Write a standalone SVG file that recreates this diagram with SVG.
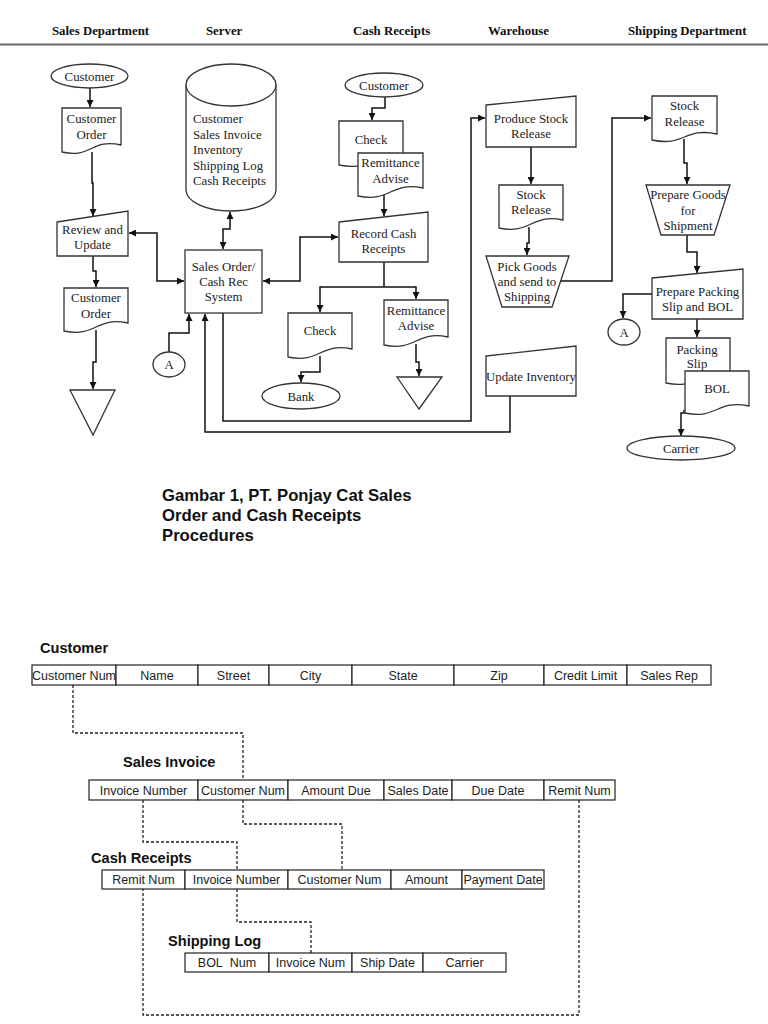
<svg xmlns="http://www.w3.org/2000/svg" width="768" height="1024" viewBox="0 0 768 1024">
<style>
.sh{fill:#fff;stroke:#333;stroke-width:1.3}
.t{font-family:"Liberation Serif","Times New Roman",serif;font-size:12.8px;fill:#222;text-anchor:middle}
.tl{font-family:"Liberation Serif","Times New Roman",serif;font-size:12.8px;fill:#222}
.hd{font-family:"Liberation Serif","Times New Roman",serif;font-size:12.8px;font-weight:bold;fill:#111}
.cn{fill:none;stroke:#111;stroke-width:1.5}
.ttl{font-family:"Liberation Sans",Arial,sans-serif;font-size:16.7px;font-weight:bold;fill:#111}
.lb{font-family:"Liberation Sans",Arial,sans-serif;font-size:14.6px;font-weight:bold;fill:#111}
.cell{fill:#fff;stroke:#222;stroke-width:1.2}
.ct{font-family:"Liberation Sans",Arial,sans-serif;font-size:12.5px;fill:#222;text-anchor:middle}
.dl{fill:none;stroke:#222;stroke-width:1.3;stroke-dasharray:3,2}
</style>
<defs>
<marker id="ah" viewBox="0 0 10 10" refX="10" refY="5" markerWidth="7" markerHeight="7" markerUnits="userSpaceOnUse" orient="auto-start-reverse"><path d="M0,0 L10,5 L0,10 z" fill="#111"/></marker>
</defs>
<rect width="768" height="1024" fill="#fff"/>

<g id="header">
<text class="hd" x="52" y="35">Sales Department</text>
<text class="hd" x="206" y="35">Server</text>
<text class="hd" x="353" y="35">Cash Receipts</text>
<text class="hd" x="488" y="35">Warehouse</text>
<text class="hd" x="628" y="35">Shipping Department</text>
<line x1="0" y1="44.5" x2="768" y2="44.5" stroke="#666" stroke-width="2"/>
</g>

<g id="connectors">
<path class="cn" d="M90,88 V107" marker-end="url(#ah)"/>
<path class="cn" d="M92,152 V183 H93 V216" marker-end="url(#ah)"/>
<path class="cn" d="M93,256 V271 H96 V287" marker-end="url(#ah)"/>
<path class="cn" d="M96,330 V362 H93 V389" marker-end="url(#ah)"/>
<path class="cn" d="M129,233 H157 V281 H184" marker-start="url(#ah)" marker-end="url(#ah)"/>
<path class="cn" d="M230,212 V229 H223 V249" marker-start="url(#ah)" marker-end="url(#ah)"/>
<path class="cn" d="M338,237 H300 V281 H263" marker-start="url(#ah)" marker-end="url(#ah)"/>
<path class="cn" d="M169,352 V333 H189 V314" marker-end="url(#ah)"/>
<path class="cn" d="M510,396 V432 H205 V314" marker-end="url(#ah)"/>
<path class="cn" d="M223,313 V421 H471 V118 H485" marker-end="url(#ah)"/>
<path class="cn" d="M385,97 V108 H372 V120" marker-end="url(#ah)"/>
<path class="cn" d="M384,195 V216" marker-end="url(#ah)"/>
<path class="cn" d="M384,262 V287"/>
<path class="cn" d="M320,312 V287 H416 V299" marker-start="url(#ah)" marker-end="url(#ah)"/>
<path class="cn" d="M320,356 V372 H301 V382" marker-end="url(#ah)"/>
<path class="cn" d="M416,344 V362 H419 V376" marker-end="url(#ah)"/>
<path class="cn" d="M531,147 V184" marker-end="url(#ah)"/>
<path class="cn" d="M529,227 V243 H527 V255" marker-end="url(#ah)"/>
<path class="cn" d="M561,281 H612 V118 H651" marker-end="url(#ah)"/>
<path class="cn" d="M684,139 V163 H687 V184" marker-end="url(#ah)"/>
<path class="cn" d="M687,235 V252 H697 V273" marker-end="url(#ah)"/>
<path class="cn" d="M652,294 H623 V318" marker-end="url(#ah)"/>
<path class="cn" d="M697,319 V337" marker-end="url(#ah)"/>
<path class="cn" d="M684,410 V413 H681 V436" marker-end="url(#ah)"/>
</g>

<g id="n-customer1"><ellipse class="sh" cx="89.5" cy="76" rx="38.5" ry="12"/><text class="t" x="89.5" y="80.5">Customer</text></g>
<g id="n-custorder1"><path class="sh" d="M62,108 H121 V145 C91.5,138 91.5,159 62,152 Z"/><text class="t" x="91.5" y="123">Customer</text><text class="t" x="91.5" y="138.5">Order</text></g>
<g id="n-review"><path class="sh" d="M57,222 L128,211 V256 H57 Z"/><text class="t" x="92.5" y="234">Review and</text><text class="t" x="92.5" y="249">Update</text></g>
<g id="n-custorder2"><path class="sh" d="M64,288 H128 V323 C96,316 96,338 64,331 Z"/><text class="t" x="96" y="302">Customer</text><text class="t" x="96" y="318">Order</text></g>
<g id="n-tri1"><path class="sh" d="M70,390 H115 L93,435 Z"/></g>

<g id="n-db"><path class="sh" d="M186,85 A45,21 0 0 1 276,85 V190 A45,21 0 0 1 186,190 Z"/><path class="sh" fill="none" d="M186,85 A45,21 0 0 0 276,85"/>
<text class="tl" x="193" y="123">Customer</text><text class="tl" x="193" y="138.5">Sales Invoice</text><text class="tl" x="193" y="154">Inventory</text><text class="tl" x="193" y="169.5">Shipping Log</text><text class="tl" x="193" y="185">Cash Receipts</text></g>
<g id="n-system"><rect class="sh" x="185" y="250" width="77" height="63" stroke-width="1.6"/><text class="t" x="223.5" y="271">Sales Order/</text><text class="t" x="223.5" y="286">Cash Rec</text><text class="t" x="223.5" y="301">System</text></g>
<g id="n-a1"><ellipse class="sh" cx="169" cy="364.5" rx="16" ry="12.5"/><text class="t" x="169" y="369">A</text></g>

<g id="n-customer2"><ellipse class="sh" cx="384" cy="85" rx="39" ry="12"/><text class="t" x="384" y="89.5">Customer</text></g>
<g id="n-check1"><path class="sh" d="M339,121 H403 V158 C371,151 371,172 339,165 Z"/><text class="t" x="371" y="143.5">Check</text></g>
<g id="n-remit1"><path class="sh" d="M358,153 H423 V188 C390.5,181 390.5,203 358,196 Z"/><text class="t" x="390.5" y="167">Remittance</text><text class="t" x="390.5" y="183">Advise</text></g>
<g id="n-record"><path class="sh" d="M339,222 L428,212 V262 H339 Z"/><text class="t" x="383.5" y="238">Record Cash</text><text class="t" x="383.5" y="253">Receipts</text></g>
<g id="n-check2"><path class="sh" d="M288,313 H352 V349 C320,342 320,364 288,357 Z"/><text class="t" x="320" y="335">Check</text></g>
<g id="n-remit2"><path class="sh" d="M384,300 H448 V337 C416,330 416,352 384,345 Z"/><text class="t" x="416" y="315">Remittance</text><text class="t" x="416" y="330">Advise</text></g>
<g id="n-bank"><ellipse class="sh" cx="301" cy="396" rx="39" ry="13"/><text class="t" x="301" y="400.5">Bank</text></g>
<g id="n-tri2"><path class="sh" d="M397,377 H442 L419,409 Z"/></g>

<g id="n-produce"><path class="sh" d="M486,105 L576,96 V147 H486 Z"/><text class="t" x="531" y="123">Produce Stock</text><text class="t" x="531" y="138">Release</text></g>
<g id="n-stock1"><path class="sh" d="M499,185 H563 V220 C531,213 531,235 499,228 Z"/><text class="t" x="531" y="199">Stock</text><text class="t" x="531" y="214">Release</text></g>
<g id="n-pick"><path class="sh" d="M486,256 H569 L552,307 H502 Z"/><text class="t" x="527" y="271">Pick Goods</text><text class="t" x="527" y="286">and send to</text><text class="t" x="527" y="301">Shipping</text></g>
<g id="n-update"><path class="sh" d="M486,356 L576,346 V396 H486 Z"/><text class="t" x="531" y="381">Update Inventory</text></g>

<g id="n-stock2"><path class="sh" d="M652,96 H717 V134 C684.5,127 684.5,147 652,140 Z"/><text class="t" x="684.5" y="110">Stock</text><text class="t" x="684.5" y="126">Release</text></g>
<g id="n-prepgoods"><path class="sh" d="M646,185 H730 L714,235 H661 Z"/><text class="t" x="688" y="199">Prepare Goods</text><text class="t" x="688" y="215">for</text><text class="t" x="688" y="230">Shipment</text></g>
<g id="n-preppack"><path class="sh" d="M652,278 L743,269 V319 H652 Z"/><text class="t" x="697.5" y="296">Prepare Packing</text><text class="t" x="697.5" y="311">Slip and BOL</text></g>
<g id="n-a2"><ellipse class="sh" cx="624" cy="332" rx="16" ry="13"/><text class="t" x="624" y="336.5">A</text></g>
<g id="n-packslip"><path class="sh" d="M666,338 H730 V376 C698,369 698,390 666,383 Z"/><text class="t" x="697" y="354">Packing</text><text class="t" x="697" y="368">Slip</text></g>
<g id="n-bol"><path class="sh" d="M685,371 H749 V406 C717,399 717,420 685,413 Z"/><text class="t" x="717" y="393">BOL</text></g>
<g id="n-carrier"><ellipse class="sh" cx="681" cy="448" rx="54" ry="12"/><text class="t" x="681" y="452.5">Carrier</text></g>

<g id="title">
<text class="ttl" x="162" y="501">Gambar 1, PT. Ponjay Cat Sales</text>
<text class="ttl" x="162" y="521">Order and Cash Receipts</text>
<text class="ttl" x="162" y="541">Procedures</text>
</g>

<g id="relations">
<path class="dl" d="M73,685 V733 H243 V780"/>
<path class="dl" d="M143,800 V842 H237 V870"/>
<path class="dl" d="M243,800 V824 H342 V870"/>
<path class="dl" d="M579,800 V1015 H143 V889"/>
<path class="dl" d="M237,889 V922 H311 V953"/>
</g>

<g id="t-customer">
<text class="lb" x="40" y="653">Customer</text>
<rect class="cell" x="32" y="665" width="84" height="20"/><rect class="cell" x="116" y="665" width="82" height="20"/><rect class="cell" x="198" y="665" width="71" height="20"/><rect class="cell" x="269" y="665" width="83" height="20"/><rect class="cell" x="352" y="665" width="102" height="20"/><rect class="cell" x="454" y="665" width="90" height="20"/><rect class="cell" x="544" y="665" width="83" height="20"/><rect class="cell" x="627" y="665" width="84" height="20"/>
<text class="ct" x="74" y="679.5">Customer Num</text><text class="ct" x="157" y="679.5">Name</text><text class="ct" x="233.5" y="679.5">Street</text><text class="ct" x="310.5" y="679.5">City</text><text class="ct" x="403" y="679.5">State</text><text class="ct" x="499" y="679.5">Zip</text><text class="ct" x="585.5" y="679.5">Credit Limit</text><text class="ct" x="669" y="679.5">Sales Rep</text>
</g>

<g id="t-salesinvoice">
<text class="lb" x="123" y="767">Sales Invoice</text>
<rect class="cell" x="89" y="780" width="109" height="20"/><rect class="cell" x="198" y="780" width="90" height="20"/><rect class="cell" x="288" y="780" width="96" height="20"/><rect class="cell" x="384" y="780" width="68" height="20"/><rect class="cell" x="452" y="780" width="92" height="20"/><rect class="cell" x="544" y="780" width="71" height="20"/>
<text class="ct" x="143.5" y="794.5">Invoice Number</text><text class="ct" x="243" y="794.5">Customer Num</text><text class="ct" x="336" y="794.5">Amount Due</text><text class="ct" x="418" y="794.5">Sales Date</text><text class="ct" x="498" y="794.5">Due Date</text><text class="ct" x="579.5" y="794.5">Remit Num</text>
</g>

<g id="t-cashreceipts">
<text class="lb" x="91" y="863">Cash Receipts</text>
<rect class="cell" x="102" y="870" width="83" height="19"/><rect class="cell" x="185" y="870" width="103" height="19"/><rect class="cell" x="288" y="870" width="103" height="19"/><rect class="cell" x="391" y="870" width="71" height="19"/><rect class="cell" x="462" y="870" width="82" height="19"/>
<text class="ct" x="143.5" y="884">Remit Num</text><text class="ct" x="236.5" y="884">Invoice Number</text><text class="ct" x="339.5" y="884">Customer Num</text><text class="ct" x="426.5" y="884">Amount</text><text class="ct" x="503" y="884">Payment Date</text>
</g>

<g id="t-shippinglog">
<text class="lb" x="168" y="946">Shipping Log</text>
<rect class="cell" x="185" y="953" width="84" height="19"/><rect class="cell" x="269" y="953" width="83" height="19"/><rect class="cell" x="352" y="953" width="71" height="19"/><rect class="cell" x="423" y="953" width="83" height="19"/>
<text class="ct" x="227" y="967">BOL&#160; Num</text><text class="ct" x="310.5" y="967">Invoice Num</text><text class="ct" x="387.5" y="967">Ship Date</text><text class="ct" x="464.5" y="967">Carrier</text>
</g>
</svg>
